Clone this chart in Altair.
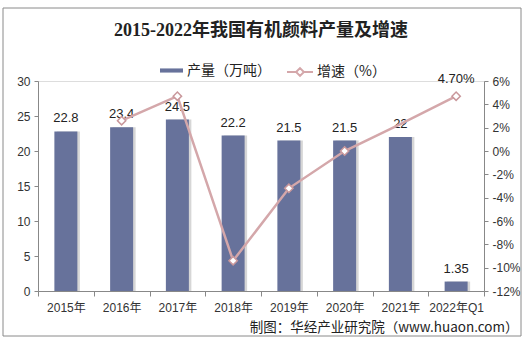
import altair as alt
import pandas as pd

years = ["2015年", "2016年", "2017年", "2018年", "2019年", "2020年", "2021年", "2022年Q1"]
output = [22.8, 23.4, 24.5, 22.2, 21.5, 21.5, 22, 1.35]
output_labels = ["22.8", "23.4", "24.5", "22.2", "21.5", "21.5", "22", "1.35"]
growth = [None, 2.6, 4.7, -9.4, -3.2, 0.0, 2.3, 4.7]
growth_marker = [False, True, True, True, True, True, False, True]
growth_labels = ["", "", "", "", "", "", "", "4.70%"]

df = pd.DataFrame({
    "year": years,
    "output": output,
    "olabel": output_labels,
    "growth": growth,
    "marker": growth_marker,
    "glabel": growth_labels,
})

BAR = "#67729B"
LINE = "#D4A7AA"
SANS = "Liberation Sans, Noto Sans CJK SC"
CJK = "Noto Sans CJK SC"

W, H = 446, 210

x_enc = alt.X(
    "year:N", sort=years,
    scale=alt.Scale(paddingInner=0, paddingOuter=0),
    axis=alt.Axis(
        title="制图：华经产业研究院（www.huaon.com）",
        titleFont=CJK, titleFontSize=13.5, titleFontWeight="normal", titleColor="#222222",
        titleAnchor="end", titleAlign="right", titleX=W + 34, titleY=40,
        titleBaseline="alphabetic",
        labelAngle=0, labelFont=SANS, labelFontSize=12, labelColor="#333333",
        labelPadding=6, tickBand="extent", tickSize=5, tickColor="#888888",
        domainColor="#888888", grid=False,
    ),
)

left_axis = alt.Axis(title=None, values=[0, 5, 10, 15, 20, 25, 30], grid=False,
                     labelFont=SANS, labelFontSize=12, labelColor="#333333",
                     tickSize=4, tickColor="#888888", domainColor="#888888",
                     labelPadding=4, labelOverlap=False)

base = alt.Chart(df)

bars_shadow = base.mark_bar(size=23, xOffset=2.5, color="#d6d6d6").encode(
    x=x_enc,
    y=alt.Y("output:Q", scale=alt.Scale(domain=[0, 30]), axis=left_axis),
)

bars = base.transform_calculate(s1="'产量（万吨）'").mark_bar(size=23).encode(
    x=x_enc,
    y=alt.Y("output:Q", scale=alt.Scale(domain=[0, 30]), axis=left_axis),
    color=alt.Color("s1:N", scale=alt.Scale(domain=["产量（万吨）"], range=[BAR]),
                    legend=alt.Legend(title=None, orient="none", legendX=121, legendY=-23,
                                      symbolType="M-1,-0.18L1,-0.18L1,0.18L-1,0.18Z",
                                      symbolSize=529, padding=0, labelOffset=3,
                                      labelFont=CJK, labelFontSize=14, labelColor="#222222")),
)

bar_text = base.mark_text(dy=-6, baseline="bottom", font=SANS, fontSize=13, color="#222222").encode(
    x=x_enc,
    y=alt.Y("output:Q", scale=alt.Scale(domain=[0, 30]), axis=left_axis),
    text="olabel:N",
)

right_axis = alt.Axis(title=None, orient="right", values=list(range(-12, 7, 2)), grid=False,
                      labelExpr="datum.value + '%'",
                      labelFont=SANS, labelFontSize=12, labelColor="#333333",
                      tickSize=4, tickColor="#888888", domainColor="#888888",
                      labelPadding=4, labelOverlap=False)
gscale = alt.Scale(domain=[-12, 6])

line = base.transform_filter("datum.growth != null").transform_calculate(
    s2="'增速（%）'").mark_line(strokeWidth=2.5).encode(
    x=x_enc,
    y=alt.Y("growth:Q", scale=gscale, axis=right_axis),
    stroke=alt.Stroke("s2:N", scale=alt.Scale(domain=["增速（%）"], range=[LINE]),
                      legend=alt.Legend(title=None, orient="none", legendX=248, legendY=-23,
                                        symbolType="M-1,0L-0.3,0M0.3,0L1,0M-0.3,0L0,-0.3L0.3,0L0,0.3Z",
                                        symbolSize=676, symbolStrokeWidth=2, symbolFillColor="white",
                                        padding=0, labelOffset=3,
                                        labelFont=CJK, labelFontSize=14, labelColor="#222222")),
)

pts = base.transform_filter("datum.marker").mark_point(
    shape="diamond", filled=True, fill="white", stroke="#C9979B", strokeWidth=1.5, size=70, opacity=1
).encode(x=x_enc, y=alt.Y("growth:Q", scale=gscale, axis=right_axis))

g_text = base.transform_filter("datum.glabel != ''").mark_text(
    dy=-10, baseline="bottom", font=SANS, fontSize=13, color="#222222").encode(
    x=x_enc, y=alt.Y("growth:Q", scale=gscale, axis=right_axis), text="glabel:N")

frame = alt.Chart(alt.Data(values=[{}])).mark_rect(
    fill="transparent", stroke="#8a8a8a", strokeWidth=1).encode(
    x=alt.value(-35), x2=alt.value(483), y=alt.value(-73), y2=alt.value(255))

left = alt.layer(bars_shadow, bars, bar_text)
right = alt.layer(line, pts, g_text)

chart = alt.layer(left, right, frame).resolve_scale(y="independent").properties(
    width=W, height=H,
    title=alt.TitleParams("2015-2022年我国有机颜料产量及增速", font="Liberation Serif, Noto Sans CJK SC",
                          fontSize=18, fontWeight="bold", color="#222222",
                          anchor="middle", frame="group", offset=-32),
    autosize=alt.AutoSizeParams(type="none"),
    padding={"left": 38, "top": 81, "right": 40, "bottom": 48},
).configure_view(stroke=None).configure(background="white")

chart.save("out.html", embed_options={"renderer": "svg", "actions": False})
